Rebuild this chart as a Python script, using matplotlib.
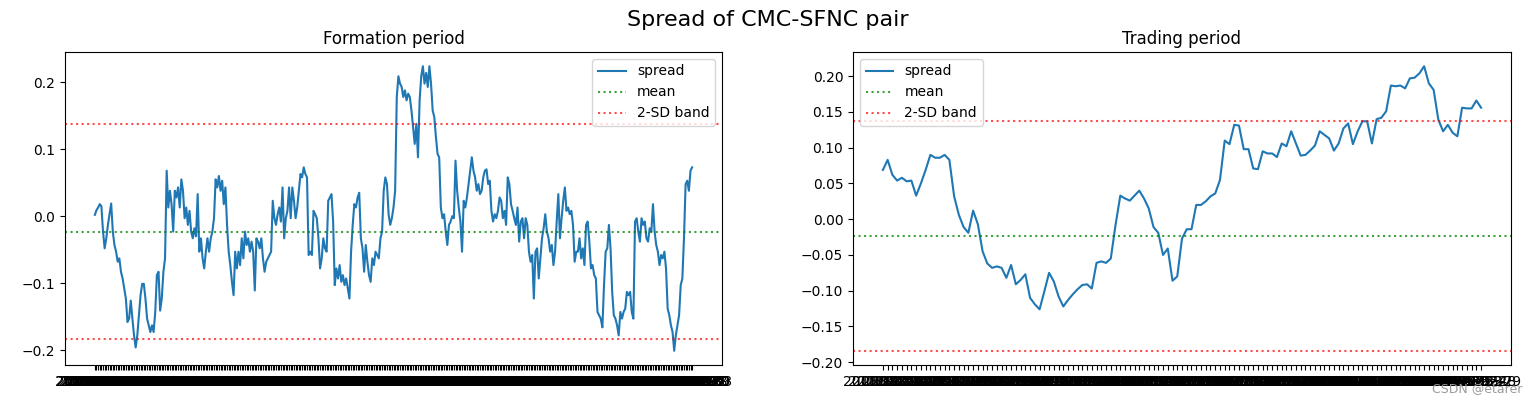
import matplotlib
matplotlib.use("Agg")
import matplotlib.pyplot as plt
import pandas as pd

# ---- data -------------------------------------------------------------
formation_spread = [
    0.002, 0.009, 0.013, 0.018, 0.015, -0.023, -0.048, -0.033, -0.013, 0.003,
    0.019, -0.023, -0.043, -0.053, -0.068, -0.063, -0.083, -0.093, -0.108, -0.123,
    -0.158, -0.153, -0.126, -0.153, -0.178, -0.196, -0.178, -0.148, -0.118, -0.101,
    -0.101, -0.123, -0.153, -0.163, -0.173, -0.163, -0.173, -0.143, -0.088, -0.083,
    -0.141, -0.123, -0.083, -0.063, 0.068, 0.013, 0.038, 0.018, -0.023, 0.038,
    0.028, 0.043, 0.013, 0.055, 0.038, -0.003, 0.013, -0.013, 0.008, -0.023,
    -0.033, -0.018, -0.030, 0.033, -0.053, -0.033, -0.063, -0.078, -0.053, -0.033,
    -0.053, -0.033, -0.023, -0.003, 0.055, 0.043, 0.060, 0.038, 0.053, 0.018,
    0.043, -0.013, -0.053, -0.073, -0.098, -0.118, -0.053, -0.078, -0.053, -0.073,
    -0.033, -0.063, -0.023, -0.043, -0.033, -0.053, -0.038, -0.053, -0.111, -0.033,
    -0.038, -0.048, -0.033, -0.063, -0.083, -0.068, -0.063, -0.058, -0.053, 0.023,
    -0.003, -0.013, 0.003, 0.013, -0.008, 0.043, -0.033, -0.003, 0.008, 0.043,
    -0.003, 0.043, 0.023, -0.003, 0.013, 0.038, 0.063, 0.058, 0.073, 0.063,
    0.058, -0.058, -0.053, -0.058, 0.008, 0.003, -0.003, -0.033, -0.078, -0.063,
    -0.033, -0.048, -0.053, 0.023, 0.028, 0.033, -0.008, -0.103, -0.078, -0.093,
    -0.073, -0.098, -0.088, -0.103, -0.093, -0.108, -0.123, -0.053, -0.013, 0.018,
    0.013, 0.028, 0.035, -0.033, -0.048, -0.083, -0.043, -0.068, -0.088, -0.098,
    -0.063, -0.073, -0.053, -0.058, -0.063, -0.033, -0.023, 0.038, 0.058, 0.048,
    0.003, -0.013, -0.003, 0.013, 0.038, 0.178, 0.209, 0.198, 0.193, 0.178,
    0.188, 0.173, 0.183, 0.178, 0.158, 0.133, 0.108, 0.138, 0.088, 0.173,
    0.209, 0.224, 0.198, 0.214, 0.193, 0.224, 0.198, 0.158, 0.148, 0.118,
    0.093, 0.088, 0.013, -0.003, 0.003, -0.023, -0.043, -0.013, -0.008, 0.000,
    -0.003, 0.083, 0.038, 0.013, -0.008, -0.053, 0.023, 0.013, 0.028, 0.048,
    0.068, 0.088, 0.068, 0.058, 0.038, 0.048, 0.033, 0.038, 0.058, 0.068,
    0.070, 0.048, 0.053, 0.008, -0.008, 0.003, -0.003, 0.008, 0.028, 0.023,
    -0.003, 0.008, -0.013, 0.058, 0.048, 0.018, 0.008, -0.003, -0.013, 0.013,
    -0.038, -0.008, -0.003, -0.033, -0.003, -0.013, -0.053, -0.068, -0.058, -0.123,
    -0.053, -0.048, -0.093, -0.063, -0.033, -0.018, 0.003, -0.023, -0.033, -0.053,
    -0.043, -0.073, -0.053, -0.008, 0.033, -0.033, -0.003, 0.023, 0.043, 0.008,
    0.013, 0.003, 0.008, -0.013, -0.068, -0.053, -0.053, -0.033, -0.063, -0.048,
    -0.073, -0.013, -0.008, -0.038, -0.078, -0.073, -0.088, -0.093, -0.143, -0.148,
    -0.153, -0.166, -0.103, -0.053, -0.048, -0.013, -0.048, -0.113, -0.148, -0.153,
    -0.163, -0.178, -0.143, -0.153, -0.143, -0.138, -0.113, -0.118, -0.113, -0.143,
    -0.153, -0.008, -0.003, -0.023, -0.038, -0.003, -0.013, -0.008, -0.033, -0.038,
    -0.018, -0.023, 0.018, -0.023, -0.043, -0.053, -0.073, -0.058, -0.063, -0.053,
    -0.078, -0.138, -0.148, -0.163, -0.173, -0.201, -0.178, -0.163, -0.148, -0.103,
    -0.093, -0.033, 0.048, 0.053, 0.038, 0.068, 0.073,
]

trading_spread = [
    0.069, 0.083, 0.062, 0.054, 0.058, 0.053, 0.054, 0.033, 0.050, 0.069,
    0.090, 0.086, 0.086, 0.090, 0.083, 0.032, 0.006, -0.011, -0.019, 0.012,
    -0.007, -0.045, -0.062, -0.068, -0.066, -0.068, -0.082, -0.064, -0.091, -0.085,
    -0.077, -0.110, -0.119, -0.126, -0.101, -0.075, -0.087, -0.108, -0.122, -0.113,
    -0.105, -0.098, -0.092, -0.091, -0.097, -0.061, -0.059, -0.061, -0.055, -0.008,
    0.033, 0.029, 0.026, 0.033, 0.040, 0.029, 0.015, -0.011, -0.019, -0.050,
    -0.041, -0.086, -0.080, -0.027, -0.014, -0.014, 0.020, 0.020, 0.025, 0.032,
    0.036, 0.055, 0.110, 0.105, 0.132, 0.131, 0.098, 0.098, 0.071, 0.070,
    0.095, 0.092, 0.092, 0.087, 0.106, 0.102, 0.123, 0.106, 0.089, 0.090,
    0.096, 0.103, 0.123, 0.118, 0.113, 0.096, 0.106, 0.127, 0.134, 0.105,
    0.123, 0.137, 0.137, 0.106, 0.140, 0.142, 0.151, 0.187, 0.186, 0.187,
    0.183, 0.197, 0.198, 0.204, 0.214, 0.190, 0.181, 0.139, 0.123, 0.132,
    0.121, 0.116, 0.156, 0.155, 0.155, 0.166, 0.156,
]

spread_mean = -0.0235
band_upper = 0.137
band_lower = -0.184

formation_dates = [d.strftime("%Y-%m-%d")
                   for d in pd.bdate_range(end="2018-12-03", periods=len(formation_spread))]
trading_dates = [d.strftime("%Y-%m-%d")
                 for d in pd.bdate_range(start="2018-12-04", periods=len(trading_spread))]

suptitle = "Spread of CMC-SFNC pair"
titles = ["Formation period", "Trading period"]

# ---- figure -----------------------------------------------------------
W, H = 1536, 404
fig = plt.figure(figsize=(W / 100, H / 100), dpi=100)
ax1 = fig.add_axes([65 / W, 1 - 365 / H, 657 / W, 313 / H])
ax2 = fig.add_axes([853 / W, 1 - 365 / H, 658 / W, 313 / H])

for ax, dates, vals, title, loc in [
    (ax1, formation_dates, formation_spread, titles[0], "upper right"),
    (ax2, trading_dates, trading_spread, titles[1], "upper left"),
]:
    ax.plot(dates, vals, color="#1f77b4", lw=1.5, label="spread")
    ax.axhline(spread_mean, color="g", ls=":", alpha=0.75, label="mean")
    ax.axhline(band_upper, color="r", ls=":", alpha=0.7, label="2-SD band")
    ax.axhline(band_lower, color="r", ls=":", alpha=0.7)
    ax.set_title(title, fontsize=12)
    ax.legend(loc=loc, fontsize=10)
    ax.tick_params(axis="both", labelsize=10)
    for lbl in ax.get_xticklabels():
        lbl.set_color("black")

fig.suptitle(suptitle, fontsize=16, y=0.975)
fig.text(1522 / W, 1 - 389 / H, "CSDN @etarer", fontsize=9, color="#999999",
         ha="right", va="center")

fig.savefig("out.png", dpi=100)
